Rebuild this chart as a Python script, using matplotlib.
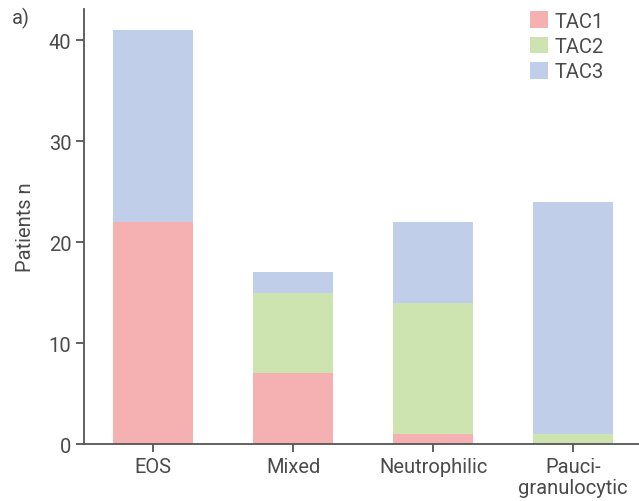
import numpy as np
import matplotlib.pyplot as plt

plt.rcParams['font.family'] = ['Roboto', 'DejaVu Sans']

# patient counts per inflammatory phenotype, split by TAC cluster
phenotypes = ['EOS', 'Mixed', 'Neutrophilic', 'Pauci-\ngranulocytic']
tac1 = [22, 7, 1, 0]
tac2 = [0, 8, 13, 1]
tac3 = [19, 2, 8, 23]

colors = {'TAC1': '#f5b0b2', 'TAC2': '#cde4b0', 'TAC3': '#c1cee9'}
grey = '#4a4a4a'

fig = plt.figure(figsize=(6.39, 5.02), dpi=100)
ax = fig.add_axes([0.1315, 0.1135, 0.8685, 0.8665])

x = np.arange(len(phenotypes))
w = 0.57
b1 = np.array(tac1)
b2 = b1 + np.array(tac2)
ax.bar(x, tac1, w, color=colors['TAC1'], label='TAC1')
ax.bar(x, tac2, w, bottom=b1, color=colors['TAC2'], label='TAC2')
ax.bar(x, tac3, w, bottom=b2, color=colors['TAC3'], label='TAC3')

ax.set_xlim(-0.493, 3.47)
ax.set_ylim(0, 43.1)
ax.set_yticks([0, 10, 20, 30, 40])
ax.set_xticks(x)
ax.set_xticklabels(phenotypes, linespacing=1.15)
ax.set_ylabel('Patients n', fontsize=14.5, color=grey, labelpad=10)

for s in ['top', 'right']:
    ax.spines[s].set_visible(False)
for s in ['left', 'bottom']:
    ax.spines[s].set_color('#555555')
    ax.spines[s].set_linewidth(1.3)
ax.tick_params(direction='out', length=6, width=1.3, color='#555555',
               labelsize=14.5, labelcolor=grey, pad=3)

leg = ax.legend(loc='upper left', bbox_to_anchor=(0.804, 0.995), frameon=False,
                fontsize=14.5, handlelength=0.9, handleheight=0.9,
                handletextpad=0.3, labelspacing=0.3, borderpad=0,
                borderaxespad=0)
for t in leg.get_texts():
    t.set_color(grey)

fig.text(0.018, 0.952, 'a)', fontsize=14.5, color=grey)

fig.savefig('out.png', dpi=100)
